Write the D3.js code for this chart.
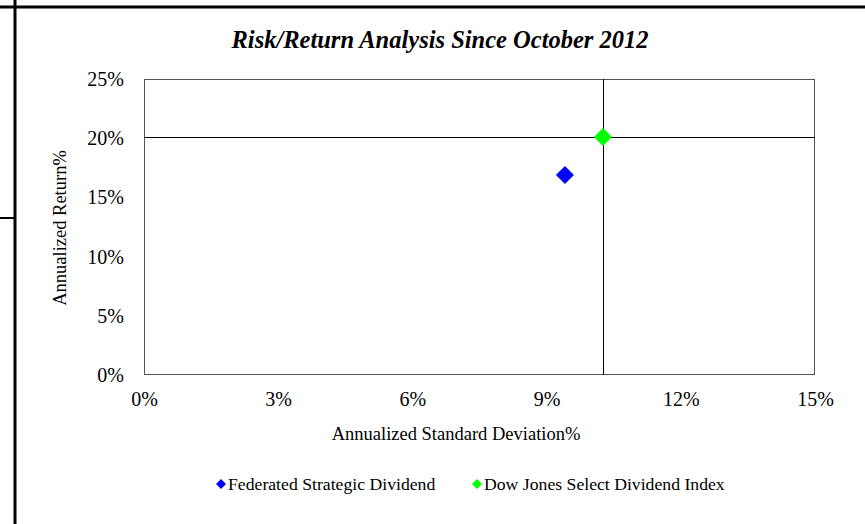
<!DOCTYPE html>
<html><head><meta charset="utf-8">
<script src="https://cdn.jsdelivr.net/npm/d3@7"></script>
<style>body{margin:0;background:#fff}svg{display:block}text{font-family:"Liberation Serif","Times New Roman",serif;fill:#000}</style>
</head><body><svg id="c" width="865" height="524"></svg>
<script>
const seriesNames = ["Federated Strategic Dividend", "Dow Jones Select Dividend Index"];
const seriesColors = ["#0000ff", "#00ff00"];
const stdDev = [9.41, 10.26];
const annReturn = [16.9, 20.1];
const xTicks = [0, 3, 6, 9, 12, 15];
const yTicks = [0, 5, 10, 15, 20, 25];

const svg = d3.select("#c");
const L = 144, R = 815, T = 79, B = 375;
const x = d3.scaleLinear().domain([0, 15]).range([L, R]);
const y = d3.scaleLinear().domain([0, 25]).range([B, T]);

// outer page lines
svg.append("line").attr("x1",0).attr("x2",865).attr("y1",7).attr("y2",7).attr("stroke","#000").attr("stroke-width",3);
svg.append("line").attr("x1",15).attr("x2",15).attr("y1",0).attr("y2",524).attr("stroke","#000").attr("stroke-width",3);
svg.append("line").attr("x1",0).attr("x2",15).attr("y1",218).attr("y2",218).attr("stroke","#000").attr("stroke-width",2);

svg.append("text").attr("x",440).attr("y",48).attr("text-anchor","middle")
  .attr("font-size",24.5).attr("font-weight","bold").attr("font-style","italic")
  .text("Risk/Return Analysis Since October 2012");

// plot frame
svg.append("rect").attr("x",L+0.5).attr("y",T+0.5).attr("width",R-L-1).attr("height",B-T-1)
  .attr("fill","none").attr("stroke","#555").attr("stroke-width",1);

// axes labels
const xa = svg.append("g").attr("transform",`translate(0,${B})`)
  .call(d3.axisBottom(x).tickValues(xTicks).tickSize(0).tickPadding(17).tickFormat(d=>d+"%"));
xa.select(".domain").remove();
xa.selectAll("text").attr("font-size",20).attr("font-family","Liberation Serif, serif").attr("dy","0.71em");
const ya = svg.append("g").attr("transform",`translate(${L},0)`)
  .call(d3.axisLeft(y).tickValues(yTicks).tickSize(0).tickPadding(20).tickFormat(d=>d+"%"));
ya.select(".domain").remove();
ya.selectAll("text").attr("font-size",20).attr("font-family","Liberation Serif, serif");

svg.append("text").attr("x",456).attr("y",440).attr("text-anchor","middle").attr("font-size",18.5)
  .text("Annualized Standard Deviation%");
svg.append("text").attr("transform","translate(66,228) rotate(-90)").attr("text-anchor","middle").attr("font-size",18.5)
  .text("Annualized Return%");

// crosshair through benchmark
const bi = 1;
svg.append("line").attr("x1",L).attr("x2",R).attr("y1",Math.round(y(annReturn[bi]))+0.5).attr("y2",Math.round(y(annReturn[bi]))+0.5).attr("stroke","#000");
svg.append("line").attr("y1",T).attr("y2",B).attr("x1",Math.round(x(stdDev[bi]))+0.5).attr("x2",Math.round(x(stdDev[bi]))+0.5).attr("stroke","#000");

const diamond = s => `M0,${-s}L${s},0L0,${s}L${-s},0Z`;
svg.selectAll(".pt").data(seriesNames).join("path")
  .attr("transform",(d,i)=>`translate(${x(stdDev[i])},${y(annReturn[i])})`)
  .attr("d",diamond(9)).attr("fill",(d,i)=>seriesColors[i]);

// legend
const legX = [221, 477];
seriesNames.forEach((n,i)=>{
  svg.append("path").attr("transform",`translate(${legX[i]},484)`).attr("d",diamond(5)).attr("fill",seriesColors[i]);
  svg.append("text").attr("x",legX[i]+7).attr("y",490).attr("font-size",17.7).text(n);
});
</script></body></html>
